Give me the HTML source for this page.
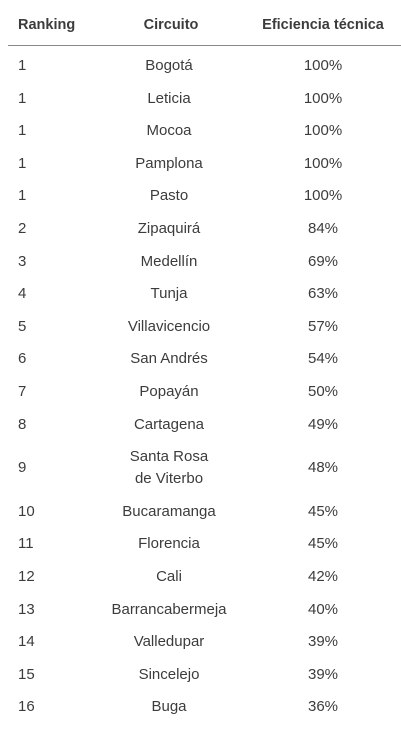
<!DOCTYPE html>
<html><head><meta charset="utf-8"><style>
body{margin:0;width:401px;height:747px;background:#fff;font-family:"Liberation Sans",sans-serif;color:#3c3c3c;position:relative;overflow:hidden}
.c{position:absolute;transform:translateY(-50%);font-size:15px;line-height:22px;white-space:nowrap}
.h{font-weight:bold;font-size:14.5px}
.ctr{transform:translate(-50%,-50%);text-align:center}
#rule{position:absolute;left:8px;top:45px;width:393px;height:1px;background:#888}
</style></head><body>
<div class="c h" style="left:18px;top:25px">Ranking</div>
<div class="c h ctr" style="left:171px;top:25px">Circuito</div>
<div class="c h ctr" style="left:323px;top:25px">Eficiencia técnica</div>
<div id="rule"></div>
<script>
const ranks=[1,1,1,1,1,2,3,4,5,6,7,8,9,10,11,12,13,14,15,16];
const circuits=["Bogotá","Leticia","Mocoa","Pamplona","Pasto","Zipaquirá","Medellín","Tunja","Villavicencio","San Andrés","Popayán","Cartagena","Santa Rosa<br>de Viterbo","Bucaramanga","Florencia","Cali","Barrancabermeja","Valledupar","Sincelejo","Buga"];
const efficiency=[100,100,100,100,100,84,69,63,57,54,50,49,48,45,45,42,40,39,39,36];
let y=66;
for(let i=0;i<ranks.length;i++){
  const two=circuits[i].includes('<br>');
  if(two) y+=11;
  const a=document.createElement('div');a.className='c';a.style.left='18px';a.style.top=y+'px';a.textContent=ranks[i];
  
  
  const b=document.createElement('div');b.className='c ctr';b.style.left='169px';b.style.top=y+'px';b.innerHTML=circuits[i];
  
  
  const c=document.createElement('div');c.className='c ctr';c.style.left='323px';c.style.top=y+'px';c.textContent=efficiency[i]+'%';
  
  
  document.body.append(a,b,c);
  y+=two?43.5:32.6;
}
</script>
</body></html>
